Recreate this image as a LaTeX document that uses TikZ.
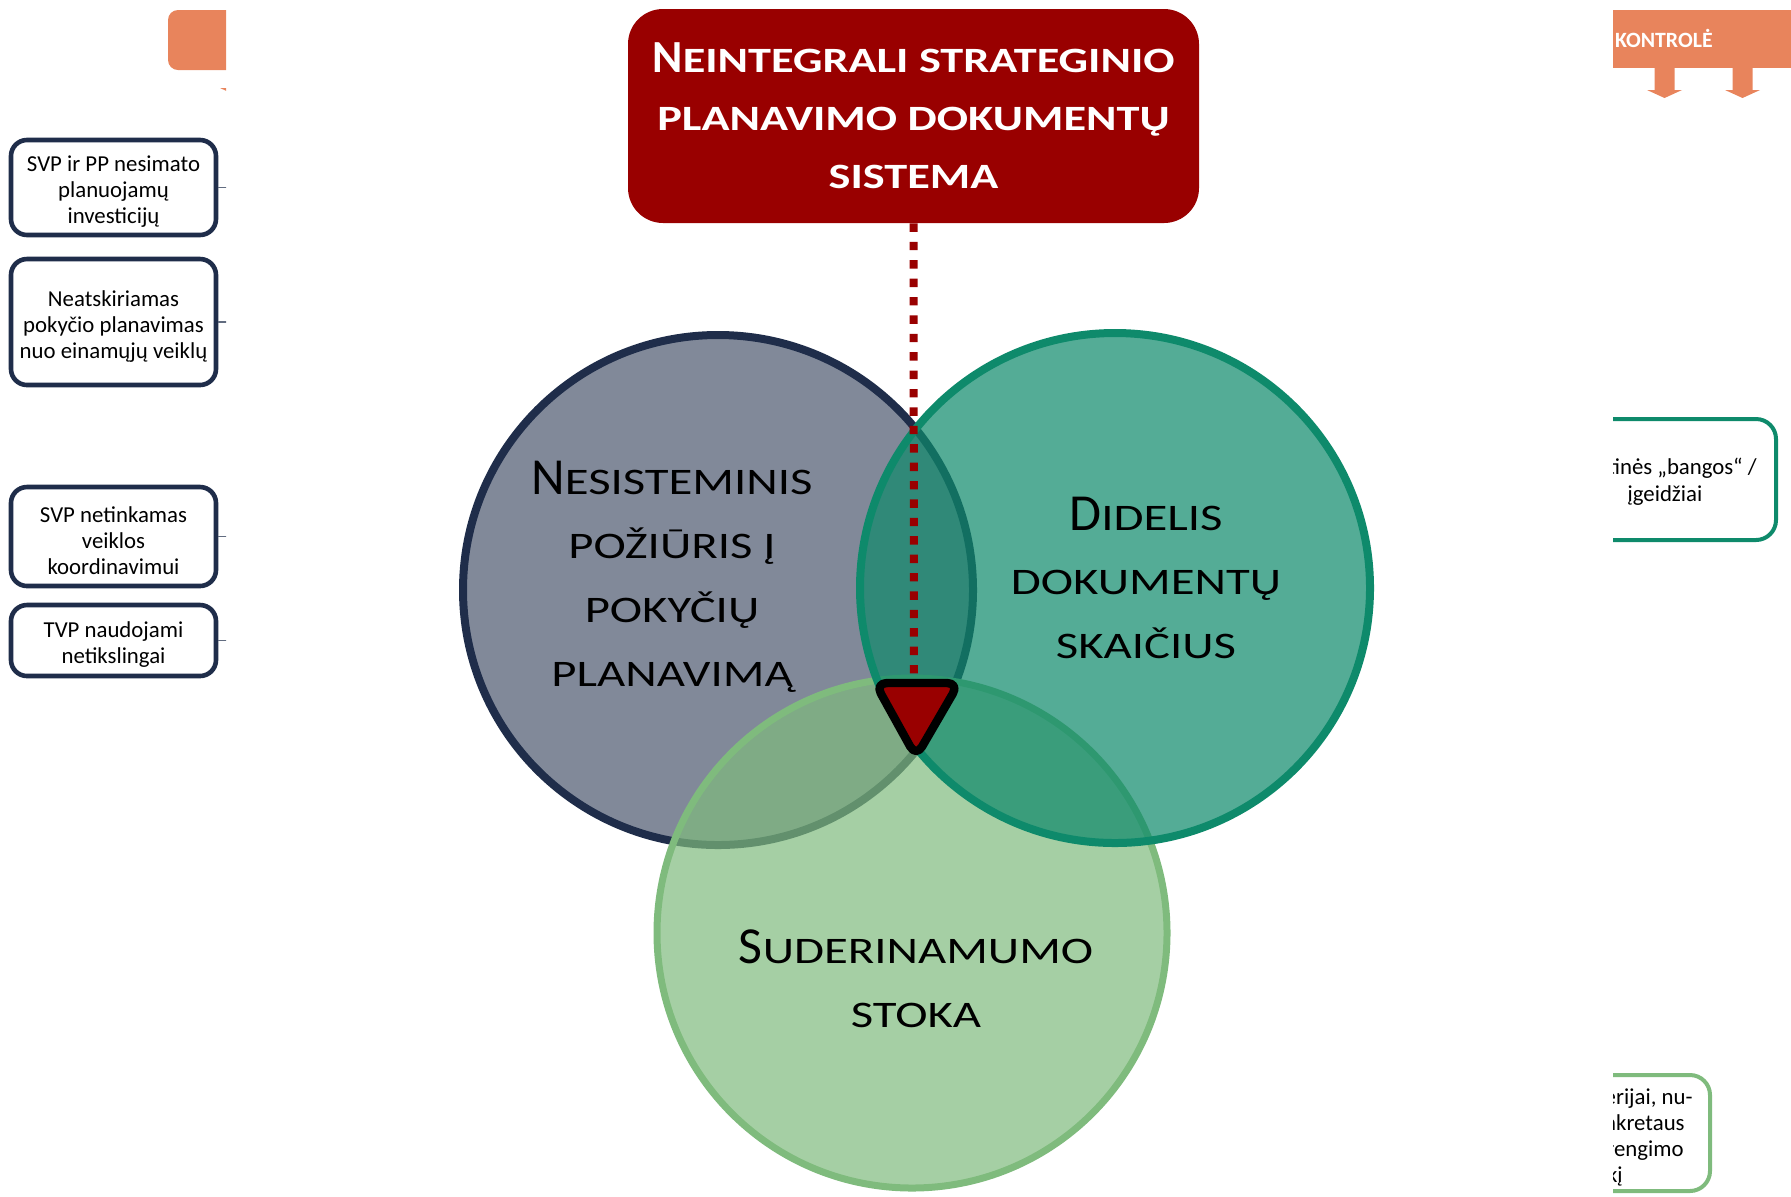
\documentclass[tikz,border=0pt]{standalone}
\usepackage{fontspec}
\setmainfont{Carlito}
\newfontfamily\scwide[FakeStretch=1.3]{Carlito}
\usetikzlibrary{arrows.meta}

\definecolor{titlered}{RGB}{153,0,0}
\definecolor{navy}{RGB}{31,45,74}
\definecolor{seateal}{RGB}{14,138,107}
\definecolor{leafgreen}{RGB}{127,187,125}
\definecolor{boxorange}{RGB}{232,132,92}

% fake small caps
\newcommand\titlesc[1]{{\scwide\bfseries\fontsize{17.8}{29}\selectfont #1}}
\newcommand\circsc[1]{{\scwide\fontsize{18.75}{32}\selectfont #1}}

\begin{document}
\begin{tikzpicture}[x=0.5pt,y=-0.5pt,
    every node/.style={inner sep=0pt},
    issuebox/.style={draw=navy, line width=2.3pt, rounded corners=8pt, fill=white,
        minimum width=102.5pt, align=center, font=\fontsize{11.4}{13}\selectfont},
    titlebox/.style={fill=titlered, rounded corners=17.5pt, minimum width=285.5pt,
        minimum height=107pt, text=white, align=center,
        font=\bfseries\fontsize{23}{29}\selectfont},
    circtext/.style={align=center, font=\fontsize{26}{32}\selectfont},
    fragtext/.style={font=\fontsize{11.4}{13}\selectfont},
    dotline/.style={titlered, line width=4pt, dash pattern=on 4.2pt off 5pt},
    marker/.style={fill=titlered, draw=black, line width=4.2pt, line join=round,
        rounded corners=6pt}]

    \useasboundingbox (0,0) rectangle (1791,1196);

    % Venn circles
    \filldraw[fill=navy, fill opacity=0.56, draw=navy, line width=4pt]
        (718,590) circle[radius=127.5pt];
    \filldraw[fill=leafgreen, fill opacity=0.7, draw=leafgreen, line width=3.5pt]
        (912,933) circle[radius=127.5pt];
    \filldraw[fill=seateal, fill opacity=0.71, draw=seateal, line width=4pt]
        (1115,588) circle[radius=127.5pt];

    \node[circtext] (nesist) at (672,577)
        {N\circsc{ESISTEMINIS}\\ \circsc{POŽIŪRIS Į}\\ \circsc{POKYČIŲ}\\ \circsc{PLANAVIMĄ}};
    \node[circtext] (didelis) at (1146,578)
        {D\circsc{IDELIS}\\ \circsc{DOKUMENTŲ}\\ \circsc{SKAIČIUS}};
    \node[circtext] (suder) at (916,979)
        {S\circsc{UDERINAMUMO}\\ \circsc{STOKA}};

    % Title
    \node[titlebox] (title) at (913.5,116)
        {N\titlesc{EINTEGRALI STRATEGINIO}\\ \titlesc{PLANAVIMO DOKUMENTŲ}\\ \titlesc{SISTEMA}};

    \coordinate (centre) at (914,690);
    \draw[dotline] (title.south) -- (centre);
    \filldraw[marker] (875,683) -- (959,683) -- (916,757) -- cycle;

    % Left side, cut off
    \begin{scope}
        \clip (0,0) rectangle (226,1196);
        \fill[boxorange, rounded corners=5pt] (168,10) rectangle (300,70);
        \fill[boxorange] (220,88) -- (255,88) -- (237.5,96) -- cycle;

        \node[issuebox, minimum height=47.5pt] (svp1) at (113.5,187.5)
            {\rule{0pt}{12pt}SVP ir PP nesimato\\ planuojamų\\ investicijų};
        \node[issuebox, minimum height=63pt] (neat) at (113.5,322)
            {\rule{0pt}{12pt}Neatskiriamas\\ pokyčio planavimas\\ nuo einamųjų veiklų};
        \node[issuebox, minimum height=49.5pt] (svp2) at (113.5,536.5)
            {\rule{0pt}{12pt}SVP netinkamas\\ veiklos\\ koordinavimui};
        \node[issuebox, minimum height=35.5pt] (tvp) at (113.5,640.5)
            {\rule{0pt}{12pt}TVP naudojami\\ netikslingai};

        \coordinate (cutleft) at (240,0);
        \foreach \b in {svp1,neat,svp2,tvp}
            \draw[navy!70, line width=0.8pt] (\b.east) -- (\b.east -| cutleft);
    \end{scope}

    % Right side, cut off
    \begin{scope}
        \clip (1613,0) rectangle (1791,1196);
        \fill[boxorange] (1590,10) rectangle (1800,68);
        \node[white, anchor=base east, font=\bfseries\fontsize{10.9}{13}\selectfont]
            (kontrole) at (1713,47) {KONTROLĖ};
        \foreach \x in {1664.5,1742.5}
            \fill[boxorange] (\x-10,68) -- (\x+10,68) -- (\x+10,90) -- (\x+17.5,90)
                -- (\x,98) -- (\x-17.5,90) -- (\x-10,90) -- cycle;

        \draw[seateal, line width=2pt, rounded corners=10pt] (1560,419) rectangle (1776,540);
        \node[fragtext, anchor=base east] (bangos) at (1757,474) {tinės „bangos“ /};
        \node[fragtext, anchor=base] (igeid) at (1665,501) {įgeidžiai};

        \draw[leafgreen, line width=2pt, rounded corners=10pt] (1560,1075) rectangle (1710,1191);
        \node[fragtext, anchor=base east] (frag1) at (1693,1104) {erijai, nu-};
        \node[fragtext, anchor=base east] (frag2) at (1685,1130) {nkretaus};
        \node[fragtext, anchor=base east] (frag3) at (1684,1156) {rengimo};
        \node[fragtext, anchor=base east] (frag4) at (1623,1182) {kį};
    \end{scope}

\end{tikzpicture}
\end{document}
